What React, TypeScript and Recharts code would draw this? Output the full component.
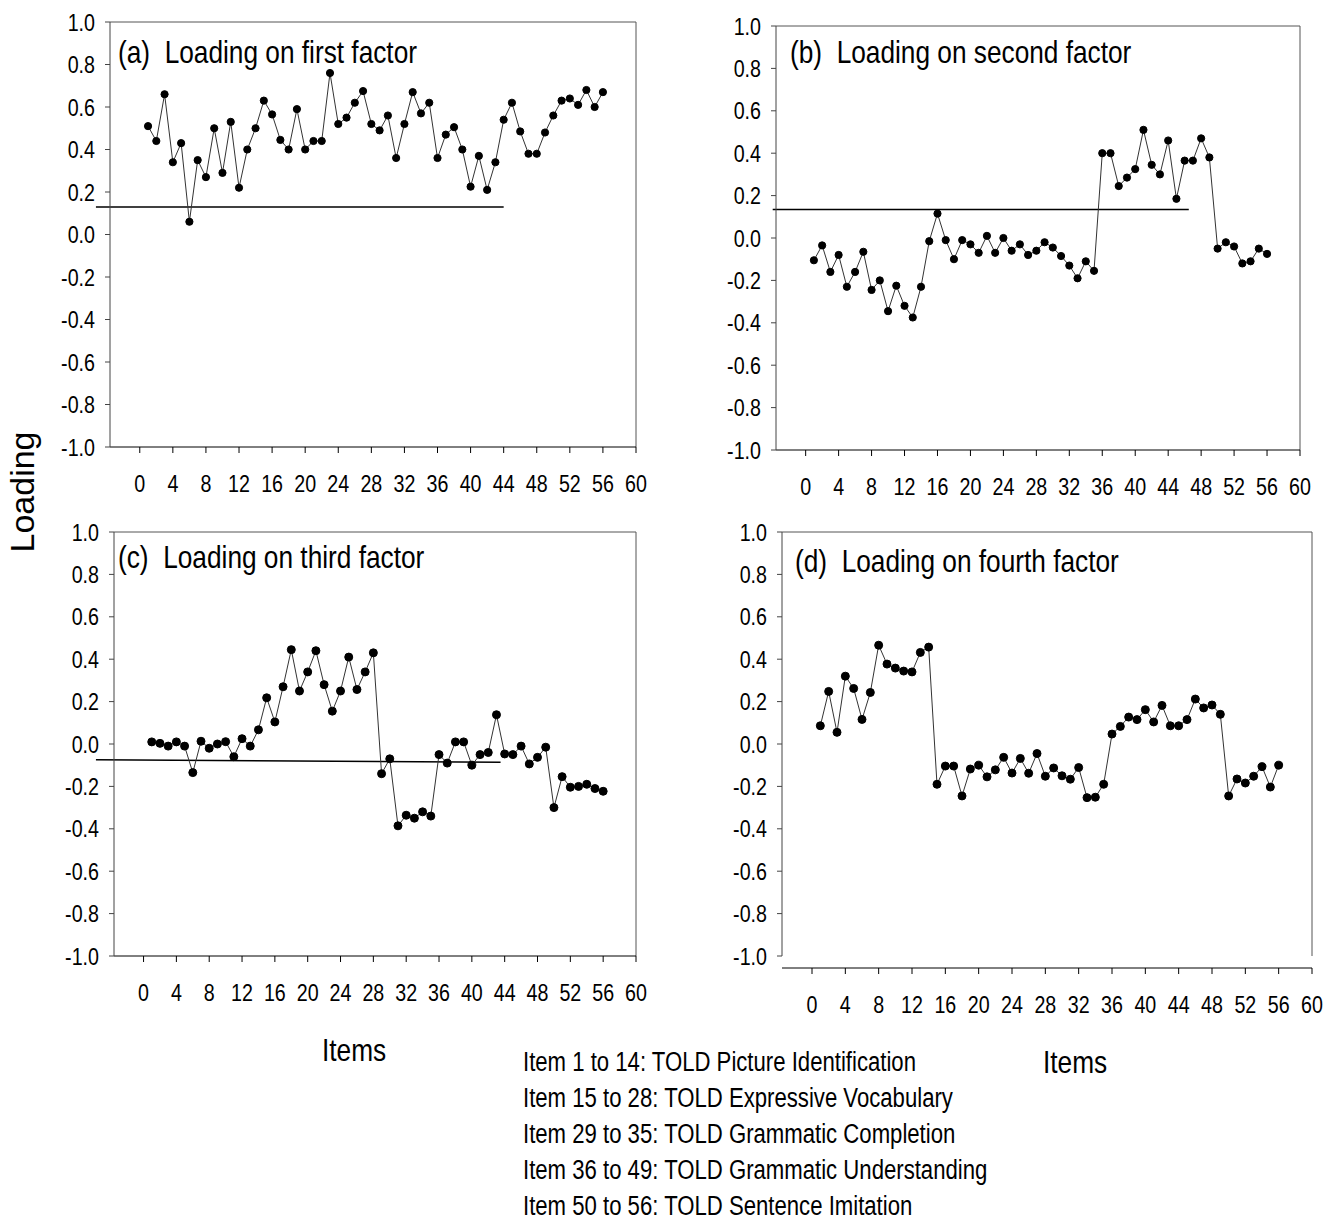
import { Line, LineChart, ReferenceLine, XAxis, YAxis } from "recharts";

const items = [
  1, 2, 3, 4, 5, 6, 7, 8, 9, 10, 11, 12, 13, 14, 15, 16, 17, 18, 19, 20, 21, 22, 23, 24, 25, 26, 27, 28,
  29, 30, 31, 32, 33, 34, 35, 36, 37, 38, 39, 40, 41, 42, 43, 44, 45, 46, 47, 48, 49, 50, 51, 52, 53, 54,
  55, 56,
];

const firstFactor = [
  0.51, 0.44, 0.66, 0.34, 0.43, 0.06, 0.35, 0.27, 0.5, 0.29, 0.53, 0.22, 0.4, 0.5, 0.63, 0.565, 0.445, 0.4,
  0.59, 0.4, 0.44, 0.44, 0.76, 0.52, 0.55, 0.62, 0.675, 0.52, 0.49, 0.56, 0.36, 0.52, 0.67, 0.57, 0.62, 0.36,
  0.47, 0.505, 0.4, 0.225, 0.37, 0.21, 0.34, 0.54, 0.62, 0.485, 0.38, 0.38, 0.48, 0.56, 0.63, 0.64, 0.61,
  0.68, 0.6, 0.67,
];

const secondFactor = [
  -0.105, -0.035, -0.16, -0.08, -0.23, -0.16, -0.065, -0.245, -0.2, -0.345, -0.225, -0.32, -0.375, -0.23,
  -0.015, 0.115, -0.01, -0.1, -0.01, -0.03, -0.07, 0.01, -0.07, 0.0, -0.06, -0.03, -0.08, -0.06, -0.02,
  -0.045, -0.085, -0.13, -0.19, -0.11, -0.155, 0.4, 0.4, 0.245, 0.285, 0.325, 0.51, 0.345, 0.3, 0.46, 0.185,
  0.365, 0.365, 0.47, 0.38, -0.05, -0.02, -0.04, -0.12, -0.11, -0.05, -0.075,
];

const thirdFactor = [
  0.01, 0.003, -0.01, 0.01, -0.01, -0.135, 0.013, -0.02, 0.0, 0.011, -0.06, 0.025, -0.01, 0.067, 0.218,
  0.104, 0.27, 0.445, 0.25, 0.34, 0.44, 0.28, 0.155, 0.25, 0.41, 0.257, 0.34, 0.43, -0.14, -0.07, -0.386,
  -0.336, -0.35, -0.32, -0.34, -0.05, -0.09, 0.01, 0.01, -0.1, -0.05, -0.04, 0.138, -0.047, -0.05, -0.01,
  -0.094, -0.063, -0.015, -0.3, -0.154, -0.204, -0.2, -0.19, -0.21, -0.223,
];

const fourthFactor = [
  0.086, 0.248, 0.055, 0.32, 0.262, 0.116, 0.243, 0.466, 0.377, 0.358, 0.344, 0.34, 0.432, 0.457, -0.19,
  -0.104, -0.104, -0.245, -0.118, -0.1, -0.155, -0.122, -0.063, -0.137, -0.068, -0.138, -0.045, -0.152,
  -0.113, -0.15, -0.166, -0.111, -0.253, -0.251, -0.19, 0.047, 0.083, 0.127, 0.115, 0.162, 0.104, 0.182,
  0.086, 0.086, 0.115, 0.212, 0.17, 0.184, 0.14, -0.245, -0.165, -0.184, -0.152, -0.107, -0.203, -0.1,
];

const xTicks = [0, 4, 8, 12, 16, 20, 24, 28, 32, 36, 40, 44, 48, 52, 56, 60];
const yTicks = [-1.0, -0.8, -0.6, -0.4, -0.2, 0.0, 0.2, 0.4, 0.6, 0.8, 1.0];

const footnoteLines = [
  "Item 1 to 14: TOLD Picture Identification",
  "Item 15 to 28: TOLD Expressive Vocabulary",
  "Item 29 to 35: TOLD Grammatic Completion",
  "Item 36 to 49: TOLD Grammatic Understanding",
  "Item 50 to 56: TOLD Sentence Imitation",
];

// no Arial Narrow offline, so squeeze Liberation Sans horizontally
const sans = "'Liberation Sans', Arial, sans-serif";
const SQUEEZE = 0.82;

const X_MIN = -3.6;
const X_MAX = 60;

function XTick(props: any) {
  const { x, y, payload } = props;
  return (
    <text
      dy="0.71em"
      fill="#000"
      fontFamily={sans}
      fontSize={24}
      textAnchor="middle"
      transform={`translate(${x},${y}) scale(${SQUEEZE},1)`}
    >
      {payload.value}
    </text>
  );
}

function YTick(props: any) {
  const { x, y, payload } = props;
  return (
    <text
      dy="0.355em"
      fill="#000"
      fontFamily={sans}
      fontSize={24}
      textAnchor="end"
      transform={`translate(${x},${y}) scale(${SQUEEZE},1)`}
    >
      {Number(payload.value).toFixed(1)}
    </text>
  );
}

function Narrow({
  left,
  top,
  size,
  children,
}: {
  left: number;
  top: number;
  size: number;
  children: React.ReactNode;
}) {
  return (
    <div
      style={{
        position: "absolute",
        left,
        top,
        fontFamily: sans,
        fontSize: size,
        lineHeight: 1,
        whiteSpace: "pre",
        color: "#000",
        transform: `scaleX(${SQUEEZE})`,
        transformOrigin: "left top",
      }}
    >
      {children}
    </div>
  );
}

type Cutoff = { x1: number; y1: number; x2: number; y2: number };

type PanelProps = {
  title: string;
  values: number[];
  left: number;
  top: number;
  width: number;
  height: number;
  axisGap?: number;
  cutoff?: Cutoff;
  titleLeft: number;
  titleTop: number;
  dotRadius?: number;
};

function Panel({
  title,
  values,
  left,
  top,
  width,
  height,
  axisGap = 0,
  cutoff,
  titleLeft,
  titleTop,
  dotRadius = 3.6,
}: PanelProps) {
  const data = items.map((item, i) => ({ item, loading: values[i] }));
  const yAxisWidth = 80;
  const marginTop = 20;
  const marginRight = 24;
  const xAxisHeight = 60;
  const yMin = -1 - (2 * axisGap) / height;

  return (
    <>
      <div style={{ position: "absolute", left: left - yAxisWidth, top: top - marginTop }}>
        <LineChart
          data={data}
          height={marginTop + height + axisGap + xAxisHeight}
          margin={{ top: marginTop, right: marginRight, left: 0, bottom: 0 }}
          width={yAxisWidth + width + marginRight}
        >
          <XAxis
            allowDataOverflow
            dataKey="item"
            domain={[X_MIN, X_MAX]}
            height={xAxisHeight}
            interval={0}
            stroke="#000"
            tick={<XTick />}
            tickMargin={22}
            tickSize={6}
            ticks={xTicks}
            type="number"
          />
          <YAxis
            axisLine={axisGap === 0 ? { stroke: "#444" } : false}
            domain={[yMin, 1]}
            interval={0}
            stroke="#444"
            tick={<YTick />}
            tickMargin={10}
            tickSize={5}
            ticks={yTicks}
            type="number"
            width={yAxisWidth}
          />
          {/* frame: top and right, plus y axis for the offset panel */}
          <ReferenceLine
            ifOverflow="visible"
            segment={[
              { x: X_MIN, y: 1 },
              { x: X_MAX, y: 1 },
            ]}
            stroke="#555"
          />
          <ReferenceLine
            ifOverflow="visible"
            segment={[
              { x: X_MAX, y: -1 },
              { x: X_MAX, y: 1 },
            ]}
            stroke="#555"
          />
          {axisGap > 0 && (
            <ReferenceLine
              ifOverflow="visible"
              segment={[
                { x: X_MIN, y: -1 },
                { x: X_MIN, y: 1 },
              ]}
              stroke="#444"
            />
          )}
          {cutoff && (
            <ReferenceLine
              ifOverflow="visible"
              segment={[
                { x: cutoff.x1, y: cutoff.y1 },
                { x: cutoff.x2, y: cutoff.y2 },
              ]}
              stroke="#000"
              strokeWidth={1.5}
            />
          )}
          <Line
            dataKey="loading"
            dot={{ r: dotRadius, fill: "#000", stroke: "#000", strokeWidth: 1 }}
            isAnimationActive={false}
            stroke="#333"
            strokeWidth={1}
            type="linear"
          />
        </LineChart>
      </div>
      <Narrow left={titleLeft} size={32} top={titleTop}>
        {title}
      </Narrow>
    </>
  );
}

export default function App() {
  return (
    <div
      style={{
        position: "absolute",
        left: 0,
        top: 0,
        width: 1328,
        height: 1220,
        background: "#fff",
        overflow: "hidden",
      }}
    >
      <Panel
        cutoff={{ x1: -5.3, y1: 0.13, x2: 44, y2: 0.13 }}
        height={425}
        left={110}
        title="(a)  Loading on first factor"
        titleLeft={118}
        titleTop={36}
        top={22}
        values={firstFactor}
        width={526}
      />
      <Panel
        cutoff={{ x1: -4, y1: 0.135, x2: 46.5, y2: 0.135 }}
        height={424}
        left={776}
        title="(b)  Loading on second factor"
        titleLeft={790}
        titleTop={36}
        top={26}
        values={secondFactor}
        width={524}
      />
      <Panel
        cutoff={{ x1: -5.8, y1: -0.074, x2: 43.5, y2: -0.086 }}
        dotRadius={4}
        height={424}
        left={114}
        title="(c)  Loading on third factor"
        titleLeft={118}
        titleTop={541}
        top={532}
        values={thirdFactor}
        width={522}
      />
      <Panel
        axisGap={12}
        dotRadius={4}
        height={424}
        left={782}
        title="(d)  Loading on fourth factor"
        titleLeft={795}
        titleTop={545}
        top={532}
        values={fourthFactor}
        width={530}
      />

      <div
        style={{
          position: "absolute",
          left: 22,
          top: 492,
          transform: "translate(-50%, -50%) rotate(-90deg)",
          fontFamily: sans,
          fontSize: 34,
          lineHeight: 1,
          whiteSpace: "nowrap",
        }}
      >
        Loading
      </div>
      <Narrow left={322} size={32} top={1034}>
        Items
      </Narrow>
      <Narrow left={1043} size={32} top={1046}>
        Items
      </Narrow>
      <Narrow left={523} size={27} top={1049}>
        {footnoteLines.map((line, i) => (
          <div key={line} style={{ marginBottom: i < footnoteLines.length - 1 ? 9 : 0 }}>
            {line}
          </div>
        ))}
      </Narrow>
    </div>
  );
}
